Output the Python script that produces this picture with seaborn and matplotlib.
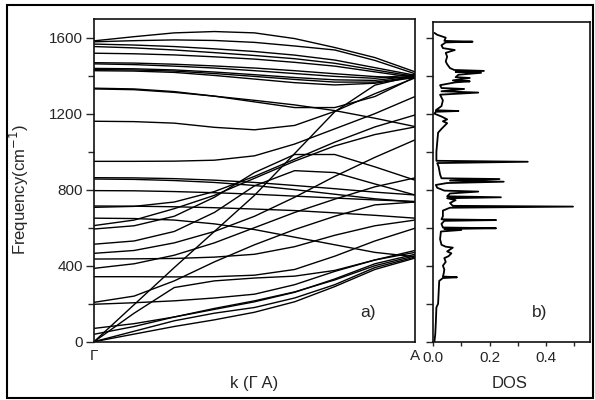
import numpy as np
import pandas as pd
import matplotlib
matplotlib.use("Agg")
import matplotlib.pyplot as plt
import seaborn as sns
from matplotlib.patches import Rectangle
from matplotlib.ticker import MultipleLocator, FixedLocator

# ---------------- data ----------------
k_points = [0.0, 0.125, 0.25, 0.375, 0.5, 0.625, 0.75, 0.875, 1.0]
k_tick_labels = ["Γ", "A"]

upper_bands = [
    [1583, 1605, 1625, 1632, 1625, 1595, 1548, 1495, 1420],
    [1578, 1584, 1588, 1585, 1575, 1556, 1535, 1480, 1410],
    [1566, 1561, 1553, 1541, 1527, 1508, 1482, 1442, 1402],
    [1553, 1546, 1535, 1521, 1506, 1489, 1465, 1430, 1396],
    [1518, 1515, 1509, 1499, 1487, 1470, 1450, 1420, 1390],
    [1468, 1466, 1460, 1451, 1440, 1426, 1410, 1395, 1386],
    [1462, 1458, 1450, 1440, 1426, 1411, 1396, 1386, 1406],
    [1438, 1436, 1430, 1419, 1405, 1390, 1378, 1375, 1400],
    [1432, 1430, 1424, 1411, 1396, 1380, 1366, 1366, 1395],
    [1426, 1424, 1417, 1401, 1382, 1363, 1351, 1360, 1390],
]

mid_bands = [
    [1334, 1330, 1316, 1292, 1262, 1232, 1232, 1290, 1392],
    [1330, 1326, 1312, 1292, 1270, 1246, 1216, 1176, 1132],
    [1160, 1158, 1150, 1128, 1115, 1138, 1212, 1305, 1388],
    [949, 949, 950, 955, 978, 1040, 1120, 1200, 1290],
    [863, 862, 858, 850, 838, 822, 805, 787, 772],
    [856, 854, 848, 838, 822, 800, 776, 752, 735],
    [795, 794, 790, 784, 776, 766, 756, 746, 738],
]

low_bands = [
    [714, 713, 710, 705, 698, 690, 678, 665, 650],
    [707, 712, 735, 790, 870, 960, 1050, 1130, 1193],
    [650, 648, 640, 620, 590, 550, 510, 470, 447],
    [611, 640, 700, 770, 860, 950, 1030, 1090, 1130],
    [593, 610, 660, 760, 890, 985, 985, 920, 850],
    [513, 530, 580, 680, 820, 900, 890, 830, 772],
    [465, 480, 520, 580, 660, 760, 870, 970, 1062],
    [435, 436, 438, 445, 460, 500, 560, 610, 640],
    [386, 410, 455, 520, 600, 680, 750, 815, 862],
    [342, 342, 341, 342, 350, 380, 450, 530, 597],
    [207, 240, 320, 420, 510, 590, 660, 720, 735],
    [197, 205, 215, 230, 250, 300, 370, 430, 470],
    [70, 95, 130, 170, 210, 260, 330, 410, 460],
    [39, 80, 130, 175, 215, 262, 325, 400, 452],
]

acoustic_bands = [
    [0, 195, 390, 580, 770, 990, 1210, 1350, 1400],
    [0, 150, 285, 320, 335, 345, 375, 430, 480],
    [0, 55, 110, 150, 180, 230, 300, 390, 445],
    [0, 40, 80, 115, 155, 210, 290, 380, 440],
]

dos_freq = [0, 40, 100, 180, 200, 260, 320, 335, 339, 343, 360, 380, 400, 420, 440,
            450, 465, 475, 485, 495, 500, 510, 540, 580, 588, 593, 597, 601, 620,
            636, 640, 644, 660, 690, 705, 711, 715, 730, 745, 755, 760, 765, 780,
            790, 795, 810, 825, 835, 842, 848, 856, 860, 880, 920, 940, 947, 952,
            1000, 1050, 1100, 1120, 1135, 1150, 1160, 1170, 1185, 1200, 1210, 1214,
            1218, 1240, 1270, 1300, 1311, 1318, 1330, 1335, 1350, 1365, 1370, 1375,
            1388, 1392, 1405, 1415, 1420, 1425, 1430, 1440, 1460, 1475, 1500, 1520,
            1535, 1545, 1560, 1575, 1579, 1583, 1600, 1615, 1625]
dos_val = [0.005, 0.008, 0.010, 0.012, 0.018, 0.020, 0.022, 0.035, 0.085, 0.035, 0.038,
           0.040, 0.035, 0.045, 0.040, 0.055, 0.065, 0.050, 0.060, 0.070, 0.045, 0.030,
           0.025, 0.028, 0.100, 0.040, 0.223, 0.035, 0.030, 0.040, 0.223, 0.030, 0.035,
           0.035, 0.060, 0.495, 0.070, 0.060, 0.080, 0.050, 0.240, 0.050, 0.060, 0.160,
           0.040, 0.015, 0.010, 0.050, 0.250, 0.060, 0.235, 0.030, 0.025, 0.020, 0.015,
           0.335, 0.012, 0.012, 0.015, 0.018, 0.030, 0.040, 0.050, 0.035, 0.050, 0.030,
           0.005, 0.010, 0.090, 0.010, 0.030, 0.035, 0.025, 0.160, 0.030, 0.110, 0.030,
           0.025, 0.080, 0.130, 0.070, 0.130, 0.080, 0.090, 0.170, 0.080, 0.180, 0.075,
           0.060, 0.050, 0.045, 0.050, 0.045, 0.077, 0.035, 0.030, 0.045, 0.140, 0.040,
           0.045, 0.015, 0.005]

# ---------------- build tables ----------------
rows = []
band_id = 0
for group in (upper_bands, mid_bands, low_bands, acoustic_bands):
    for band in group:
        for kk, ff in zip(k_points, band):
            rows.append({"band": band_id, "k": kk, "freq": ff})
        band_id += 1
bands_df = pd.DataFrame(rows)
dos_df = pd.DataFrame({"dos": dos_val, "freq": dos_freq})

# ---------------- plot ----------------
sns.set_theme(style="ticks")
plt.rcParams["font.family"] = ["Liberation Sans", "DejaVu Sans"]
plt.rcParams["axes.linewidth"] = 1.2
plt.rcParams["axes.edgecolor"] = "#111111"

W, H = 595, 400
fig = plt.figure(figsize=(W / 100, H / 100), dpi=100)
ax1 = fig.add_axes([94 / W, 1 - 341.7 / H, (415 - 94) / W, (341.7 - 19) / H])
ax2 = fig.add_axes([433 / W, 1 - 341.7 / H, (590 - 433) / W, (341.7 - 21.7) / H])

sns.lineplot(data=bands_df, x="k", y="freq", units="band", estimator=None,
             sort=False, color="black", linewidth=1.0, ax=ax1, legend=False)
sns.lineplot(data=dos_df, x="dos", y="freq", estimator=None, sort=False,
             color="black", linewidth=1.3, ax=ax2, legend=False)

# left panel
ax1.set_xlim(0, 1)
ax1.set_ylim(0, 1698)
ax1.set_xticks([0, 1])
ax1.set_xticklabels(k_tick_labels)
ax1.yaxis.set_major_locator(MultipleLocator(400))
ax1.yaxis.set_minor_locator(MultipleLocator(200))
ax1.tick_params(axis="x", length=0, labelsize=11, pad=5)
ax1.tick_params(axis="y", which="major", direction="out", length=6, width=1, labelsize=11, pad=2)
ax1.tick_params(axis="y", which="minor", direction="out", length=4, width=1)
ax1.set_xlabel("k (Γ A)", fontsize=12)
ax1.set_ylabel(r"Frequency(cm$^{-1}$)", fontsize=12)
ax1.xaxis.set_label_coords(0.5, -0.105)
ax1.yaxis.set_label_coords(-0.195, 0.47)
ax1.text(0.853, 156, "a)", ha="center", va="center", fontsize=12.5)

# right panel
ax2.set_xlim(0, 0.555)
ax2.set_ylim(0, 1684)
ax2.xaxis.set_major_locator(FixedLocator([0.0, 0.2, 0.4]))
ax2.xaxis.set_minor_locator(FixedLocator([0.1, 0.3, 0.5]))
ax2.set_xticklabels(["0.0", "0.2", "0.4"])
ax2.yaxis.set_major_locator(MultipleLocator(200))
ax2.set_yticklabels([])
ax2.tick_params(axis="x", which="both", direction="out", length=3, width=1, labelsize=11, pad=4)
ax2.tick_params(axis="y", direction="out", length=5, width=1)
ax2.set_xlabel("DOS", fontsize=12)
ax2.set_ylabel("")
ax2.xaxis.set_label_coords(0.49, -0.107)
ax2.text(0.378, 156, "b)", ha="center", va="center", fontsize=12.5)

for ax in (ax1, ax2):
    for sp in ax.spines.values():
        sp.set_visible(True)

fig.patches.append(Rectangle((7 / W, 2 / H), 586 / W, 393 / H, transform=fig.transFigure,
                             fill=False, linewidth=1.5, edgecolor="black"))

fig.savefig("out.png", dpi=100)
